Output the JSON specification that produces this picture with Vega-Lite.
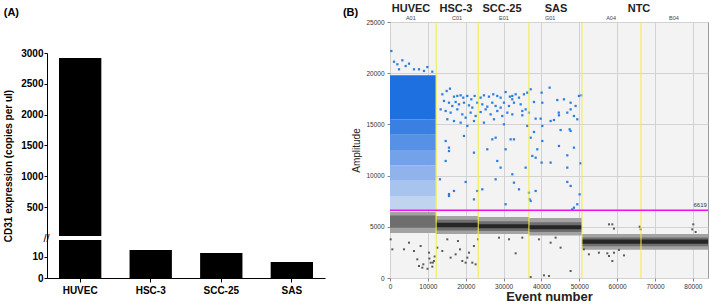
{
  "$schema": "https://vega.github.io/schema/vega-lite/v6.json",
  "padding": {"left": 3, "top": 2, "right": 0, "bottom": 0},
  "bounds": "flush",
  "spacing": 65,
  "config": {"view": {"stroke": null}, "font": "Liberation Sans"},
  "datasets": {
    "bars": [
      {"cell": "HUVEC", "copies": 2920},
      {"cell": "HSC-3", "copies": 13.3},
      {"cell": "SCC-25", "copies": 11.9},
      {"cell": "SAS", "copies": 7.6}
    ],
    "bands": [
      {"kind": "pos1", "start": 0, "end": 12100, "low": 15500, "high": 19800},
      {"kind": "pos2", "start": 0, "end": 12100, "low": 14000, "high": 15500},
      {"kind": "pos3", "start": 0, "end": 12100, "low": 12500, "high": 14000},
      {"kind": "pos4", "start": 0, "end": 12100, "low": 11000, "high": 12500},
      {"kind": "pos5", "start": 0, "end": 12100, "low": 9500, "high": 11000},
      {"kind": "pos6", "start": 0, "end": 12100, "low": 8000, "high": 9500},
      {"kind": "pos7", "start": 0, "end": 12100, "low": 6700, "high": 8000},
      {"kind": "neg-out", "start": 0, "end": 12100, "low": 4400, "high": 6450},
      {"kind": "neg-mid", "start": 0, "end": 12100, "low": 4900, "high": 6100},
      {"kind": "neg-out", "start": 12100, "end": 23300, "low": 4300, "high": 6050},
      {"kind": "neg-mid", "start": 12100, "end": 23300, "low": 4650, "high": 5700},
      {"kind": "neg-core", "start": 12100, "end": 23300, "low": 4950, "high": 5400},
      {"kind": "neg-out", "start": 23300, "end": 36700, "low": 4300, "high": 5950},
      {"kind": "neg-mid", "start": 23300, "end": 36700, "low": 4600, "high": 5550},
      {"kind": "neg-core", "start": 23300, "end": 36700, "low": 4850, "high": 5250},
      {"kind": "neg-out", "start": 36700, "end": 50700, "low": 4150, "high": 5850},
      {"kind": "neg-mid", "start": 36700, "end": 50700, "low": 4500, "high": 5450},
      {"kind": "neg-core", "start": 36700, "end": 50700, "low": 4750, "high": 5150},
      {"kind": "neg-out", "start": 50700, "end": 84000, "low": 2750, "high": 4300},
      {"kind": "neg-mid", "start": 50700, "end": 84000, "low": 3100, "high": 3950},
      {"kind": "neg-core", "start": 50700, "end": 84000, "low": 3350, "high": 3750}
    ],
    "blue": [
      {"event": 350, "amp": 22170}, {"event": 1060, "amp": 21120}, {"event": 1940, "amp": 20870}, {"event": 3260, "amp": 21260},
      {"event": 4140, "amp": 20700}, {"event": 5020, "amp": 20930}, {"event": 7660, "amp": 20380}, {"event": 9860, "amp": 20600},
      {"event": 2380, "amp": 20380}, {"event": 6340, "amp": 20380}, {"event": 8980, "amp": 20220}, {"event": 11170, "amp": 20150},
      {"event": 15840, "amp": 18490}, {"event": 14960, "amp": 18260}, {"event": 13820, "amp": 17940}, {"event": 16900, "amp": 17710},
      {"event": 17780, "amp": 17780}, {"event": 18660, "amp": 17840}, {"event": 19360, "amp": 17610}, {"event": 20420, "amp": 17780},
      {"event": 21480, "amp": 17450}, {"event": 22360, "amp": 17780}, {"event": 23940, "amp": 17610}, {"event": 24820, "amp": 17840},
      {"event": 26140, "amp": 17710}, {"event": 27280, "amp": 17940}, {"event": 28340, "amp": 17780}, {"event": 29220, "amp": 17610},
      {"event": 30540, "amp": 18160}, {"event": 31680, "amp": 17710}, {"event": 32300, "amp": 17450}, {"event": 14260, "amp": 17290},
      {"event": 15580, "amp": 17120}, {"event": 16460, "amp": 16800}, {"event": 17340, "amp": 17190}, {"event": 18220, "amp": 16960},
      {"event": 19540, "amp": 17120}, {"event": 20860, "amp": 16860}, {"event": 21740, "amp": 16640}, {"event": 23060, "amp": 17120},
      {"event": 24380, "amp": 16960}, {"event": 25700, "amp": 16730}, {"event": 27020, "amp": 17120}, {"event": 27900, "amp": 16800},
      {"event": 29220, "amp": 16640}, {"event": 30100, "amp": 17120}, {"event": 31420, "amp": 16800}, {"event": 13380, "amp": 16470},
      {"event": 14700, "amp": 16310}, {"event": 16020, "amp": 16150}, {"event": 17780, "amp": 16470}, {"event": 19100, "amp": 15980},
      {"event": 19980, "amp": 15660}, {"event": 21300, "amp": 16150}, {"event": 22620, "amp": 15820}, {"event": 23940, "amp": 16210},
      {"event": 25260, "amp": 16470}, {"event": 26580, "amp": 15980}, {"event": 28340, "amp": 16310}, {"event": 29660, "amp": 15820},
      {"event": 30980, "amp": 16150}, {"event": 15140, "amp": 15500}, {"event": 16900, "amp": 15330}, {"event": 18660, "amp": 15170},
      {"event": 20420, "amp": 14850}, {"event": 22180, "amp": 15330}, {"event": 24820, "amp": 15170}, {"event": 27460, "amp": 15500},
      {"event": 30100, "amp": 15010}, {"event": 14700, "amp": 13380}, {"event": 15580, "amp": 12730}, {"event": 19540, "amp": 13870},
      {"event": 25700, "amp": 12570}, {"event": 27020, "amp": 13540}, {"event": 27900, "amp": 13700}, {"event": 30540, "amp": 12570},
      {"event": 31860, "amp": 13540}, {"event": 28340, "amp": 11430}, {"event": 29220, "amp": 10780}, {"event": 22180, "amp": 12240},
      {"event": 14700, "amp": 11430}, {"event": 15580, "amp": 12400}, {"event": 13200, "amp": 9640}, {"event": 19980, "amp": 9380},
      {"event": 16900, "amp": 8500}, {"event": 15580, "amp": 8010}, {"event": 23060, "amp": 8500}, {"event": 24380, "amp": 8660},
      {"event": 27900, "amp": 9640}, {"event": 22180, "amp": 7680}, {"event": 30540, "amp": 7200},
      {"event": 32310, "amp": 17780}, {"event": 33190, "amp": 17940}, {"event": 34070, "amp": 17610}, {"event": 35390, "amp": 17940},
      {"event": 36270, "amp": 18100}, {"event": 37150, "amp": 18430}, {"event": 40050, "amp": 18100}, {"event": 42170, "amp": 18590},
      {"event": 32750, "amp": 17120}, {"event": 34510, "amp": 16960}, {"event": 35830, "amp": 16470}, {"event": 36710, "amp": 16150},
      {"event": 38030, "amp": 17190}, {"event": 40230, "amp": 17120}, {"event": 44190, "amp": 17380}, {"event": 45950, "amp": 17450},
      {"event": 47710, "amp": 17120}, {"event": 49030, "amp": 16800}, {"event": 49910, "amp": 17780}, {"event": 50550, "amp": 17840},
      {"event": 32310, "amp": 15980}, {"event": 34950, "amp": 16310}, {"event": 34950, "amp": 15890}, {"event": 38470, "amp": 15560},
      {"event": 39790, "amp": 15560}, {"event": 42430, "amp": 15330}, {"event": 43310, "amp": 15430}, {"event": 44580, "amp": 16150},
      {"event": 44630, "amp": 15890}, {"event": 46830, "amp": 16150}, {"event": 47710, "amp": 16470}, {"event": 48590, "amp": 15820},
      {"event": 49470, "amp": 15500}, {"event": 36270, "amp": 14850}, {"event": 38030, "amp": 14260}, {"event": 40230, "amp": 14850},
      {"event": 40230, "amp": 13380}, {"event": 45070, "amp": 14450}, {"event": 47450, "amp": 14520}, {"event": 47710, "amp": 14360},
      {"event": 32750, "amp": 13540}, {"event": 37150, "amp": 13700}, {"event": 38910, "amp": 12570}, {"event": 44630, "amp": 12890},
      {"event": 46830, "amp": 11980}, {"event": 48590, "amp": 12730}, {"event": 37590, "amp": 11920}, {"event": 38470, "amp": 11750},
      {"event": 40050, "amp": 11270}, {"event": 42430, "amp": 11270}, {"event": 35830, "amp": 10780}, {"event": 50350, "amp": 11200},
      {"event": 32310, "amp": 10130}, {"event": 46830, "amp": 10780}, {"event": 32750, "amp": 9310}, {"event": 46830, "amp": 9380},
      {"event": 47710, "amp": 8990}, {"event": 34070, "amp": 8660}, {"event": 36710, "amp": 8330}, {"event": 38470, "amp": 8500},
      {"event": 36890, "amp": 7680}, {"event": 37150, "amp": 7520}, {"event": 50090, "amp": 8170}, {"event": 49470, "amp": 7200},
      {"event": 48590, "amp": 6870}, {"event": 48150, "amp": 6700}, {"event": 15590, "amp": 8200}
    ],
    "gray": [
      {"event": 615, "amp": 2800}, {"event": 175, "amp": 3776}, {"event": 3700, "amp": 2800}, {"event": 5015, "amp": 3450},
      {"event": 6335, "amp": 2637}, {"event": 7215, "amp": 1824}, {"event": 7655, "amp": 1173}, {"event": 8535, "amp": 1010},
      {"event": 8800, "amp": 1335}, {"event": 10735, "amp": 1498}, {"event": 11175, "amp": 1108}, {"event": 11615, "amp": 1661},
      {"event": 10295, "amp": 2474}, {"event": 8095, "amp": 3125}, {"event": 9900, "amp": 900}, {"event": 10400, "amp": 1900},
      {"event": 11300, "amp": 1500}, {"event": 11800, "amp": 2100}, {"event": 12495, "amp": 2963}, {"event": 13815, "amp": 2637},
      {"event": 16015, "amp": 1987}, {"event": 17335, "amp": 2312}, {"event": 19095, "amp": 1661}, {"event": 19975, "amp": 1498},
      {"event": 20415, "amp": 1987}, {"event": 21735, "amp": 1498}, {"event": 22615, "amp": 1335}, {"event": 20855, "amp": 2474},
      {"event": 17950, "amp": 3613}, {"event": 15135, "amp": 3776}, {"event": 22175, "amp": 3125}, {"event": 23230, "amp": 3776},
      {"event": 18480, "amp": 2800}, {"event": 28790, "amp": 3940}, {"event": 33190, "amp": 2410}, {"event": 39350, "amp": 3776},
      {"event": 42430, "amp": 3450}, {"event": 45070, "amp": 2963}, {"event": 47710, "amp": 684}, {"event": 40670, "amp": 260},
      {"event": 42000, "amp": 200}, {"event": 37150, "amp": 100}, {"event": 31430, "amp": 3776}, {"event": 34950, "amp": 3940},
      {"event": 43750, "amp": 3940}, {"event": 51220, "amp": 2800}, {"event": 52540, "amp": 2312}, {"event": 55180, "amp": 2474},
      {"event": 57850, "amp": 5240}, {"event": 58730, "amp": 5240}, {"event": 59170, "amp": 4820}, {"event": 65950, "amp": 5010},
      {"event": 66210, "amp": 4750}, {"event": 80110, "amp": 5240}, {"event": 79850, "amp": 4750}, {"event": 80730, "amp": 4490},
      {"event": 57850, "amp": 2150}, {"event": 58730, "amp": 1660}, {"event": 57410, "amp": 2410}, {"event": 59170, "amp": 2470},
      {"event": 60490, "amp": 2740}, {"event": 61810, "amp": 2210}
    ],
    "splits": [{"event": 12200}, {"event": 23300}, {"event": 36700}, {"event": 50700}, {"event": 66300}],
    "wells": [
      {"well": "A01", "event": 5500}, {"well": "C01", "event": 17700}, {"well": "E01", "event": 30100},
      {"well": "G01", "event": 42300}, {"well": "A04", "event": 58400}, {"well": "B04", "event": 75000}
    ],
    "cells": [
      {"cell": "HUVEC", "event": 5550}, {"cell": "HSC-3", "event": 17430}, {"cell": "SCC-25", "event": 29580},
      {"cell": "SAS", "event": 43850}, {"cell": "NTC", "event": 65770}
    ],
    "threshold": [{"amp": 6619}]
  },
  "hconcat": [
    {
      "width": 278,
      "height": 256,
      "title": {"text": "(A)", "anchor": "start", "frame": "bounds", "fontSize": 11, "fontWeight": "bold", "color": "black", "offset": 4},
      "data": {"name": "bars"},
      "layer": [
        {
          "mark": {"type": "bar", "color": "black"},
          "encoding": {
            "x": {
              "field": "cell", "type": "nominal", "sort": null,
              "scale": {"paddingInner": 0.4, "paddingOuter": 0.17},
              "axis": {"title": null, "labelAngle": 0, "labelFontSize": 10, "labelFontWeight": "bold", "labelColor": "black",
                       "tickSize": 4, "tickColor": "black", "domainColor": "black", "labelPadding": 3, "zindex": 1}
            },
            "y": {
              "field": "copies", "type": "quantitative",
              "scale": {"domain": [0, 18, 30, 3000], "range": [256, 218, 214, 31], "nice": false, "zero": false},
              "axis": {
                "values": [0, 10, 24, 500, 1000, 1500, 2000, 2500, 3000], "format": "d", "tickCount": 30,
                "labelExpr": "datum.value == 24 ? '//' : datum.label",
                "title": "CD31 expression (copies per ul)", "titleFontSize": 10, "titleFontWeight": "bold", "titleColor": "black", "titlePadding": 7,
                "labelFontSize": {"condition": {"test": "datum.value == 24", "value": 11}, "value": 10},
                "labelFontWeight": {"condition": {"test": "datum.value == 24", "value": "normal"}, "value": "bold"},
                "labelColor": "black", "labelOverlap": false,
                "labelAlign": {"condition": {"test": "datum.value == 24", "value": "left"}, "value": "right"},
                "labelPadding": 1,
                "tickOpacity": {"condition": {"test": "datum.value == 24", "value": 0}, "value": 1},
                "tickSize": 3, "tickColor": "black", "domainColor": "black", "grid": false, "zindex": 1
              }
            }
          }
        },
        {
          "mark": {"type": "rect", "color": "white"},
          "encoding": {"y": {"datum": 18, "type": "quantitative"}, "y2": {"datum": 30}}
        }
      ]
    },
    {
      "width": 318,
      "height": 256,
      "view": {"fill": "#f3f3f3", "stroke": "#9a9a9a"},
      "title": {"text": "(B)", "anchor": "start", "frame": "bounds", "fontSize": 11, "fontWeight": "bold", "color": "black", "offset": -15, "dx": -9},
      "layer": [
        {
          "data": {"name": "bands"},
          "mark": {"type": "rect"},
          "encoding": {
            "x": {
              "field": "start", "type": "quantitative",
              "scale": {"domain": [0, 84000], "nice": false, "zero": false},
              "axis": {"values": [0, 10000, 20000, 30000, 40000, 50000, 60000, 70000, 80000], "format": "d", "tickCount": 30,
                       "title": "Event number", "titleFontSize": 13, "titleFontWeight": "bold", "titleColor": "#222", "titlePadding": 1,
                       "labelFontSize": 6.5, "labelColor": "#333", "labelFlush": false, "labelOverlap": false, "labelPadding": 2,
                       "tickSize": 3, "tickColor": "#888", "domain": false, "grid": true, "gridColor": "#d2d2d2"}
            },
            "x2": {"field": "end"},
            "y": {
              "field": "low", "type": "quantitative",
              "scale": {"domain": [0, 25000], "nice": false, "zero": false},
              "axis": {"values": [0, 5000, 10000, 15000, 20000, 25000], "format": "d", "tickCount": 30,
                       "title": "Amplitude", "titleFontSize": 10, "titleFontWeight": "normal", "titleColor": "#222", "titlePadding": 4,
                       "labelFontSize": 6.5, "labelColor": "#333", "labelFlush": false, "labelOverlap": false, "labelPadding": 3,
                       "tickSize": 3, "tickColor": "#888", "domain": false, "grid": true, "gridColor": "#d2d2d2"}
            },
            "y2": {"field": "high"},
            "color": {
              "field": "kind", "type": "nominal", "legend": null,
              "scale": {
                "domain": ["pos1", "pos2", "pos3", "pos4", "pos5", "pos6", "pos7", "neg-out", "neg-mid", "neg-core"],
                "range": ["#1e6fe0", "#3a80e3", "#5791e6", "#73a2e8", "#8fb3ea", "#a8c3ed", "#c0d3ef", "#a3a3a3", "#6e6e6e", "#262626"]
              }
            }
          }
        },
        {
          "data": {"name": "blue"},
          "mark": {"type": "square", "size": 5, "color": "#2a7de1", "opacity": 1},
          "encoding": {"x": {"field": "event", "type": "quantitative"}, "y": {"field": "amp", "type": "quantitative"}}
        },
        {
          "data": {"name": "gray"},
          "mark": {"type": "square", "size": 4, "color": "#5a5a5a", "opacity": 1},
          "encoding": {"x": {"field": "event", "type": "quantitative"}, "y": {"field": "amp", "type": "quantitative"}}
        },
        {
          "data": {"name": "splits"},
          "mark": {"type": "rule", "color": "#f2ee3a", "strokeWidth": 1},
          "encoding": {"x": {"field": "event", "type": "quantitative"}}
        },
        {
          "data": {"name": "threshold"},
          "mark": {"type": "rule", "color": "#ee11ee", "strokeWidth": 1.5},
          "encoding": {"y": {"field": "amp", "type": "quantitative"}}
        },
        {
          "data": {"name": "threshold"},
          "mark": {"type": "text", "align": "right", "baseline": "bottom", "dy": -2, "fontSize": 6, "color": "#333"},
          "encoding": {"x": {"datum": 83700, "type": "quantitative"}, "y": {"field": "amp", "type": "quantitative"}, "text": {"field": "amp", "type": "quantitative", "format": "d"}}
        },
        {
          "data": {"name": "wells"},
          "mark": {"type": "text", "baseline": "bottom", "dy": -1, "fontSize": 5.5, "color": "#444"},
          "encoding": {"x": {"field": "event", "type": "quantitative"}, "y": {"datum": 25000, "type": "quantitative"}, "text": {"field": "well"}}
        },
        {
          "data": {"name": "cells"},
          "mark": {"type": "text", "baseline": "middle", "fontSize": 11, "fontWeight": "bold", "color": "#222"},
          "encoding": {"x": {"field": "event", "type": "quantitative"}, "y": {"datum": 26300, "type": "quantitative"}, "text": {"field": "cell"}}
        }
      ]
    }
  ]
}
